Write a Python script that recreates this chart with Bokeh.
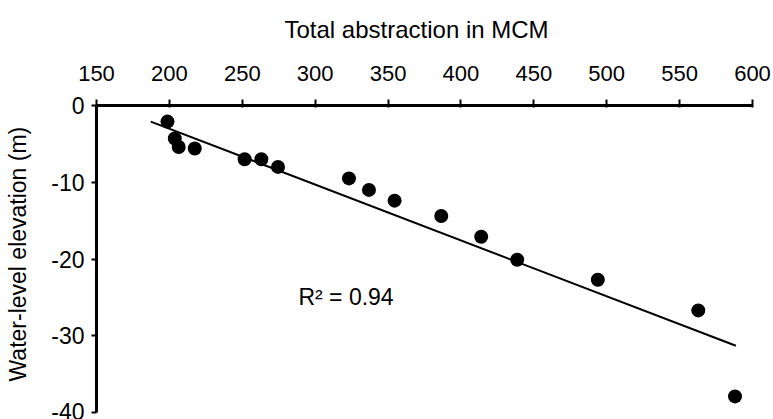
from bokeh.plotting import figure
from bokeh.models import FixedTicker, Label, Title
from bokeh.embed import file_html
from bokeh.resources import INLINE

# data
abstraction = [198.7, 203.7, 206.4, 217.4, 251.6, 263.1, 274.5, 323.2, 336.9,
               354.5, 386.5, 413.9, 438.6, 493.9, 562.8, 588.0]
elevation = [-2.1, -4.3, -5.4, -5.6, -7.0, -7.0, -8.0, -9.5, -11.0,
             -12.4, -14.4, -17.1, -20.1, -22.7, -26.7, -37.9]
trend_x = [187.2, 588.6]
trend_y = [-2.1, -31.3]
x_ticks = [150, 200, 250, 300, 350, 400, 450, 500, 550, 600]
y_ticks = [0, -10, -20, -30, -40]
r2_text = "R\u00b2 = 0.94"
r2_pos = (288.5, -25.0)
x_title = "Total abstraction in MCM"
y_title = "Water-level elevation (m)"

FONT = "Liberation Sans"

p = figure(width=773, height=419, x_range=(150, 600), y_range=(-40, 0),
           x_axis_location="above", output_backend="svg", toolbar_location=None,
           min_border_left=95, min_border_top=105, min_border_right=21,
           min_border_bottom=7)
p.outline_line_color = None
p.xgrid.visible = False
p.ygrid.visible = False

for ax in (p.xaxis[0], p.yaxis[0]):
    ax.axis_line_width = 3
    ax.axis_line_color = "black"
    ax.major_tick_line_width = 2
    ax.major_tick_line_color = "black"
    ax.minor_tick_line_color = None
    ax.major_label_text_font = FONT
    ax.major_label_text_color = "black"
    # blank spacer label: adds room between tick labels and the title
    ax.axis_label = " "
    ax.axis_label_text_font_size = "1px"

xa = p.xaxis[0]
xa.ticker = FixedTicker(ticks=x_ticks)
xa.major_label_text_font_size = "22px"
xa.major_tick_out = 6
xa.major_tick_in = 2
xa.major_label_standoff = 19
xa.axis_label_standoff = 11

ya = p.yaxis[0]
ya.ticker = FixedTicker(ticks=y_ticks)
ya.major_label_overrides = {v: str(v) for v in y_ticks}
ya.major_label_text_font_size = "23px"
ya.major_tick_out = 5
ya.major_tick_in = 0
ya.major_label_standoff = 7
ya.axis_label_standoff = 12

p.add_layout(Title(text=x_title, align="left", offset=188, text_font=FONT,
                   text_font_size="24px", text_font_style="normal",
                   text_color="black", standoff=10), "above")
p.add_layout(Title(text=y_title, align="left", offset=31, text_font=FONT,
                   text_font_size="23px", text_font_style="normal",
                   text_color="black", standoff=4), "left")

p.line(trend_x, trend_y, line_color="black", line_width=2)
p.scatter(abstraction, elevation, size=14, fill_color="black", line_color=None)

p.add_layout(Label(x=r2_pos[0], y=r2_pos[1], text=r2_text, text_font=FONT,
                   text_font_size="23px", text_color="black",
                   text_baseline="alphabetic"))

open("out.html", "w").write(file_html(p, INLINE))
